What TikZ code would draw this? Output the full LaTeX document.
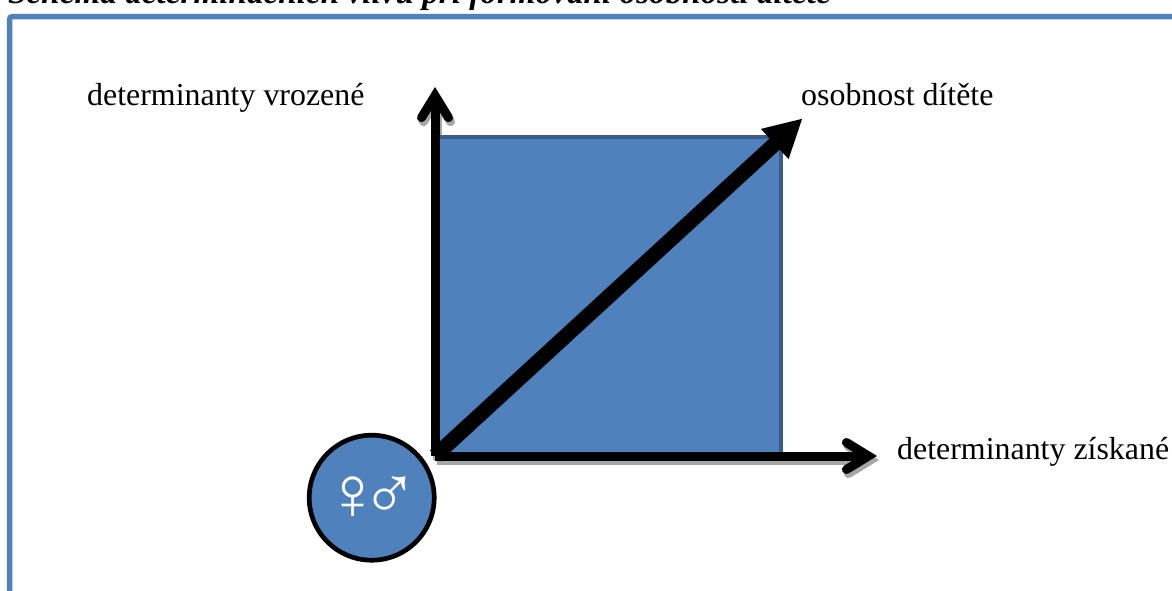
\documentclass[tikz,border=0pt]{standalone}
\usepackage{fontspec}
\setmainfont{Liberation Serif}
\newfontfamily\symfont{Liberation Sans}
\usetikzlibrary{arrows.meta}
\definecolor{fillblue}{HTML}{4F81BD}
\definecolor{edgeblue}{HTML}{385D8A}
\tikzset{
  lbl/.style={font=\fontsize{31.9}{36}\selectfont, anchor=base west, inner sep=0pt, text=black},
  ttl/.style={font=\fontsize{33.2}{36}\selectfont\bfseries\itshape, anchor=base west, inner sep=0pt},
  axis/.style={line width=9pt, -{Straight Barb[length=22pt,width=27pt,line cap=round,line join=miter]}, black},
  axisshadow/.style={axis, draw=black!35, -{Straight Barb[length=22pt,width=27pt,line cap=round,line join=miter,black!35]}},
  diag/.style={line width=15pt, -{Triangle[length=38pt,width=38pt]}, black},
  squarebox/.style={draw=edgeblue, fill=fillblue, line width=4pt},
  frameline/.style={draw=fillblue, line width=5.5pt, rounded corners=3pt},
  genderdot/.style={circle, draw=black, fill=fillblue, line width=4.7pt, minimum size=125pt, inner sep=0pt, text=white, font=\symfont\fontsize{76}{76}\selectfont}
}
\begin{document}
\begin{tikzpicture}[x=1pt,y=-1pt]
\useasboundingbox (0,0) rectangle (1172,590);
\clip (0,0) rectangle (1172,590);
\node[ttl] (title) at (8,3) {Schéma determinačních vlivů při formování osobnosti dítěte};
\draw[frameline] (9.5,600) -- (9.5,16.5) -- (1180,16.5);
\coordinate (origin) at (435,456);
\coordinate (top) at (435,87);
\coordinate (right) at (877,456);
\coordinate (diagend) at (802.7,118.3);
\coordinate (origins) at (437,460);
\coordinate (tops) at (437,91);
\coordinate (rights) at (879,460);
\draw[axisshadow] (origins) -- (tops);
\draw[axisshadow] (origins) -- (rights);
\draw[squarebox] (437,137) rectangle (781,454);
\draw[axis] (origin) -- (top);
\draw[axis] (origin) -- (right);
\draw[diag] (origin) -- (diagend);
\node[genderdot] (gender) at (371.7,497.7) {♀\kern-20pt♂};
\node[lbl] (innate) at (87,105) {determinanty vrozené};
\node[lbl] (child) at (801,105) {osobnost dítěte};
\node[lbl] (acquired) at (897,459) {determinanty získané};
\end{tikzpicture}
\end{document}
